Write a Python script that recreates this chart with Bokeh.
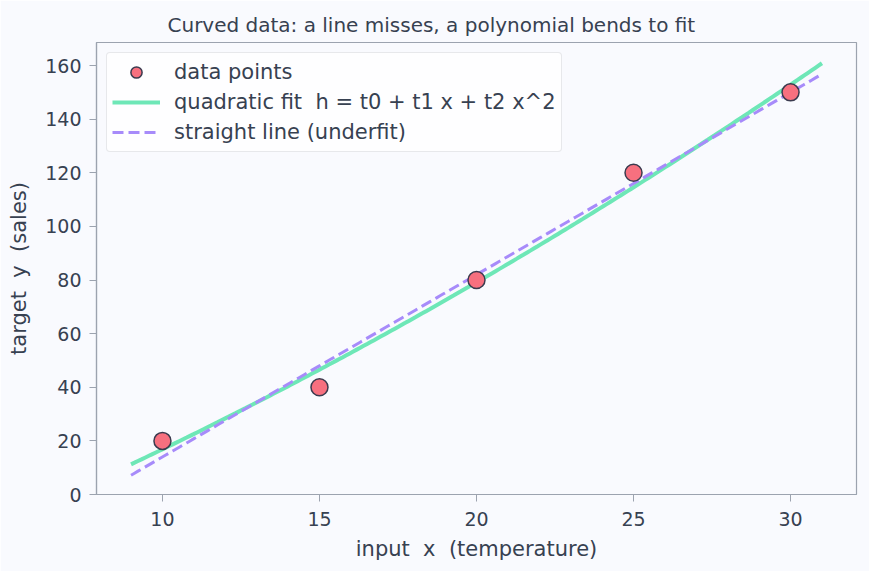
import numpy as np
from bokeh.plotting import figure
from bokeh.models import Range1d, FixedTicker, Legend, LegendItem
from bokeh.embed import file_html
from bokeh.resources import INLINE

x_data = [10, 15, 20, 25, 30]
y_data = [20, 40, 80, 120, 150]
x_ticks = [10, 15, 20, 25, 30]
y_ticks = [0, 20, 40, 60, 80, 100, 120, 140, 160]

# fits derived from the data
xs = np.linspace(9, 31, 200)
quad = np.polyval(np.polyfit(x_data, y_data, 2), xs)
lin = np.polyval(np.polyfit(x_data, y_data, 1), xs)

NB = "\u00a0"
TXT = "#374151"
FRAME = "#9ca3af"
FONT = "DejaVu Sans"

p = figure(width=869, height=571, output_backend="svg", toolbar_location=None,
           x_range=Range1d(7.9, 32.1), y_range=Range1d(0, 168.6),
           min_border_left=96, min_border_right=13, min_border_top=42, min_border_bottom=77)
p.background_fill_color = "#f9fafe"
p.border_fill_color = "#f9fafe"
p.outline_line_color = FRAME
p.outline_line_width = 1.2
p.grid.visible = False

p.title.text = "Curved data: a line misses, a polynomial bends to fit"
p.title.text_font = FONT
p.title.text_font_size = "20px"
p.title.text_font_style = "normal"
p.title.text_color = TXT
p.title.align = "left"
p.title.offset = 71
p.title.standoff = 12

for ax in (p.xaxis[0], p.yaxis[0]):
    ax.axis_line_color = FRAME
    ax.axis_line_width = 1.2
    ax.major_tick_line_color = FRAME
    ax.major_tick_in = 0
    ax.major_tick_out = 7
    ax.minor_tick_line_color = None
    ax.major_label_text_font = FONT
    ax.major_label_text_font_size = "19px"
    ax.major_label_text_color = TXT
    ax.axis_label_text_font = FONT
    ax.axis_label_text_font_size = "21px"
    ax.axis_label_text_font_style = "normal"
    ax.axis_label_text_color = TXT

p.xaxis[0].major_label_standoff = 10
p.yaxis[0].major_label_standoff = 8
p.xaxis[0].axis_label_standoff = 8
p.yaxis[0].axis_label_standoff = 11

p.xaxis[0].ticker = FixedTicker(ticks=x_ticks)
p.yaxis[0].ticker = FixedTicker(ticks=y_ticks)
p.xaxis[0].axis_label = f"input {NB}x {NB}(temperature)"
p.yaxis[0].axis_label = f"target {NB}y {NB}(sales)"

g_quad = p.line(xs, quad, line_color="#6ee7b7", line_width=4)
g_lin = p.line(xs, lin, line_color="#a78bfa", line_width=3, line_dash="11 5")
g_pts = p.scatter(x_data, y_data, size=17, fill_color="#f7707f",
                  line_color="#3b3b4f", line_width=1.5)

legend = Legend(items=[
    LegendItem(label="data points", renderers=[g_pts]),
    LegendItem(label=f"quadratic fit {NB}h = t0 + t1 x + t2 x^2", renderers=[g_quad]),
    LegendItem(label="straight line (underfit)", renderers=[g_lin]),
], location="top_left")
legend.label_text_font = FONT
legend.label_text_font_size = "21px"
legend.label_text_color = TXT
legend.background_fill_color = "#ffffff"
legend.background_fill_alpha = 0.8
legend.border_line_color = "#cfd2d8"
legend.border_radius = 4
legend.margin = 10
legend.padding = 5
legend.spacing = 2
legend.glyph_width = 48
legend.glyph_height = 28
legend.label_standoff = 14
legend.label_height = 28
p.add_layout(legend)

open("out.html", "w").write(file_html(p, INLINE))
